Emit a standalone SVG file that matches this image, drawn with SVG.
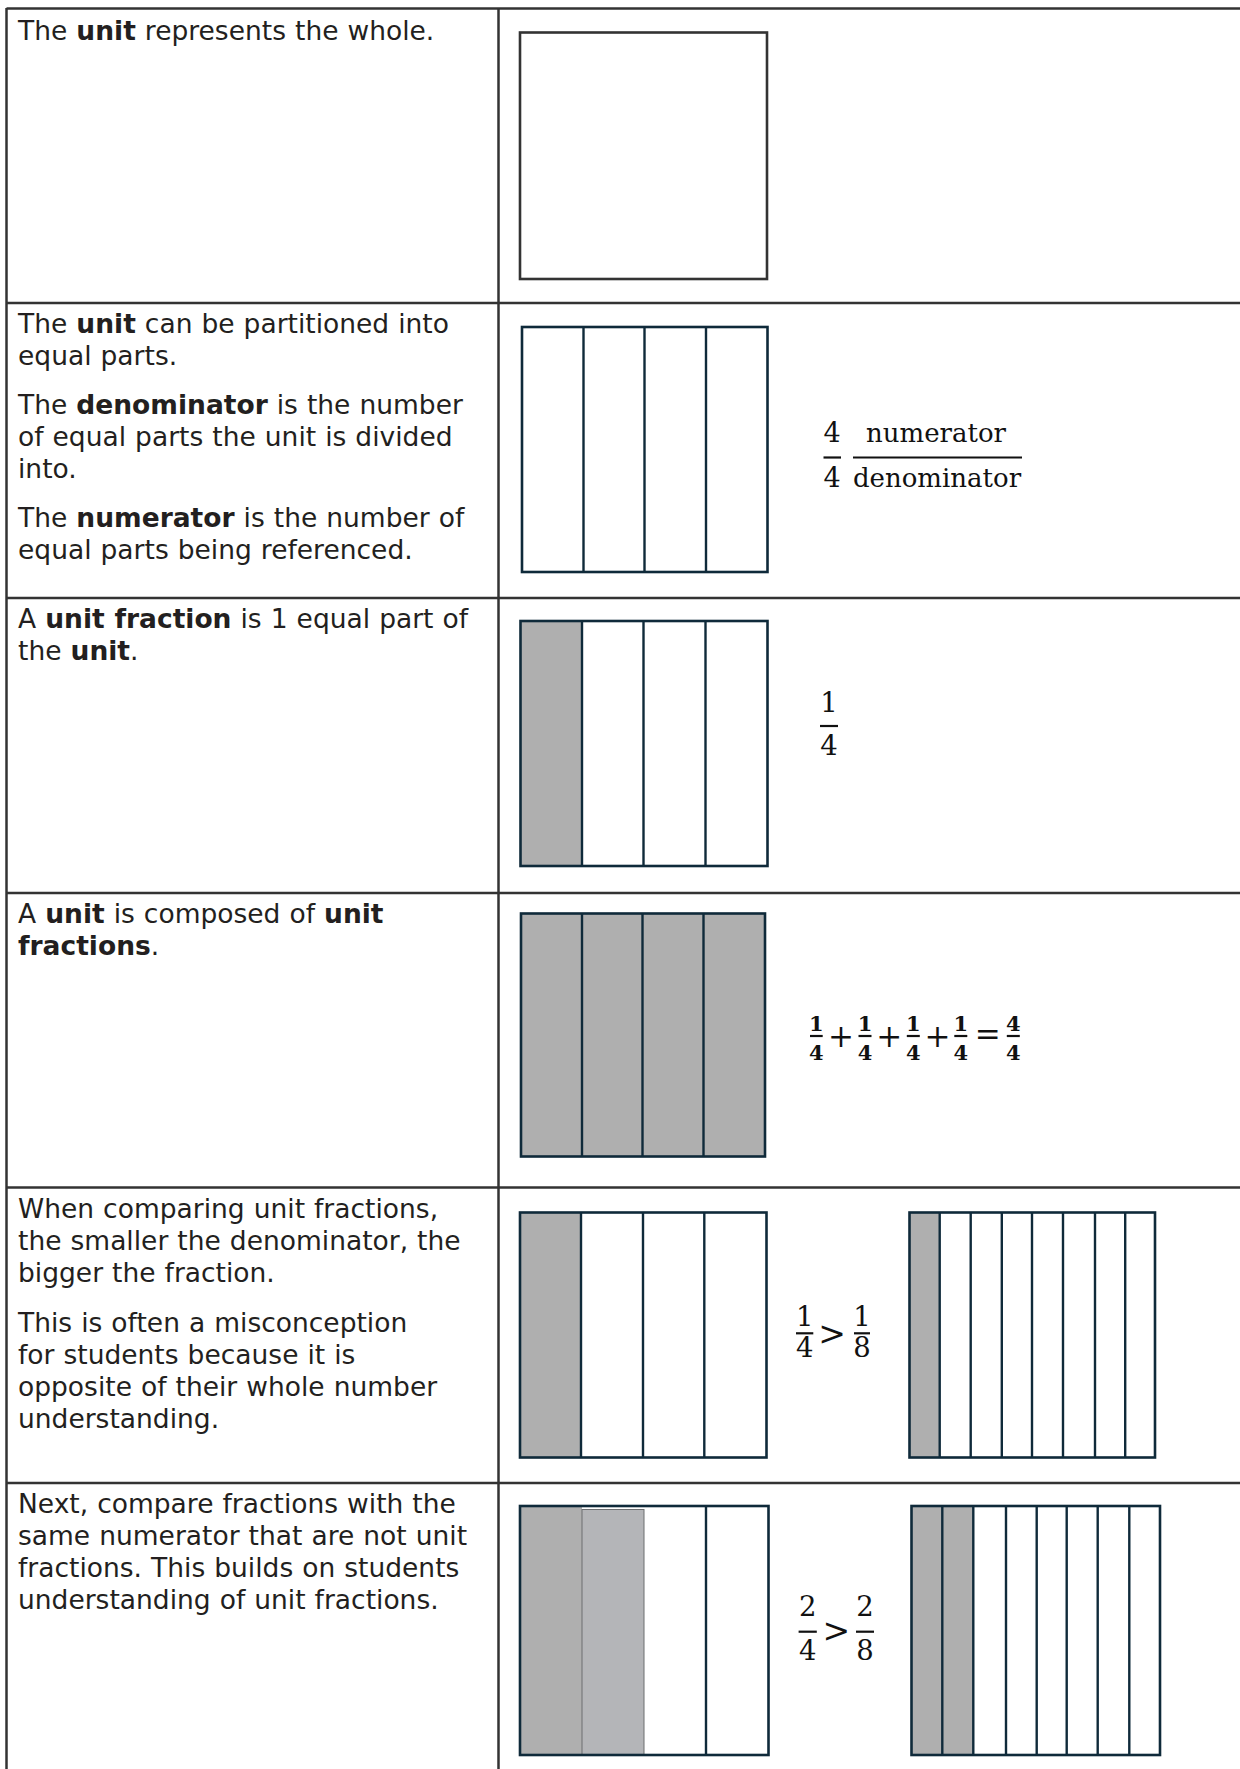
<svg xmlns="http://www.w3.org/2000/svg" width="1240" height="1769" viewBox="0 0 1240 1769">
<style>
.t{font-family:"DejaVu Sans",Verdana,sans-serif;font-size:26.5px;word-spacing:0.6px;fill:#231f20}
.b{font-weight:bold}
.grid{stroke:#333;stroke-width:2.5;fill:none}
.box{fill:none;stroke:#0f2a3a;stroke-width:2.6}
.div{stroke:#0f2a3a;stroke-width:2.4}
.sh{fill:#afafaf}
.m{font-family:"DejaVu Serif","Liberation Serif",serif;fill:#111;text-anchor:middle}
.bar{stroke:#111;stroke-width:2.2}
</style>
<rect width="1240" height="1769" fill="#fff"/>
<g id="table" class="grid">
<line x1="6.5" y1="8.5" x2="1240" y2="8.5"/>
<line x1="6.5" y1="8" x2="6.5" y2="1769"/>
<line x1="498.5" y1="8" x2="498.5" y2="1769"/>
<line x1="6" y1="303" x2="1240" y2="303"/>
<line x1="6" y1="598" x2="1240" y2="598"/>
<line x1="6" y1="893" x2="1240" y2="893"/>
<line x1="6" y1="1187.5" x2="1240" y2="1187.5"/>
<line x1="6" y1="1483" x2="1240" y2="1483"/>
</g>
<g id="row1-text">
<text class="t" x="18" y="40">The <tspan class="b">unit</tspan> represents the whole.</text>
</g>
<g id="row1-figure">
<rect x="520" y="32.5" width="247" height="246.5" fill="none" stroke="#333" stroke-width="2.6"/>
</g>
<g id="row2-text">
<text class="t" x="18" y="333">The <tspan class="b">unit</tspan> can be partitioned into</text>
<text class="t" x="18" y="365">equal parts.</text>
<text class="t" x="18" y="414">The <tspan class="b">denominator</tspan> is the number</text>
<text class="t" x="18" y="446">of equal parts the unit is divided</text>
<text class="t" x="18" y="478">into.</text>
<text class="t" x="18" y="527">The <tspan class="b">numerator</tspan> is the number of</text>
<text class="t" x="18" y="559">equal parts being referenced.</text>
</g>
<g id="row2-figure">
<rect class="box" x="522" y="327" width="245.5" height="245"/>
<line class="div" x1="583.5" y1="327" x2="583.5" y2="572"/>
<line class="div" x1="644.5" y1="327" x2="644.5" y2="572"/>
<line class="div" x1="706" y1="327" x2="706" y2="572"/>
<text class="m" x="832" y="442" font-size="27">4</text>
<line class="bar" x1="823.5" y1="457.5" x2="841" y2="457.5"/>
<text class="m" x="832" y="486.5" font-size="27">4</text>
<text class="m" x="936" y="442" font-size="26">numerator</text>
<line class="bar" x1="853" y1="457.5" x2="1022" y2="457.5"/>
<text class="m" x="937" y="486.5" font-size="26">denominator</text>
</g>
<g id="row3-text">
<text class="t" x="18" y="628">A <tspan class="b">unit fraction</tspan> is 1 equal part of</text>
<text class="t" x="18" y="660">the <tspan class="b">unit</tspan>.</text>
</g>
<g id="row3-figure">
<rect class="sh" x="520.5" y="621" width="61.5" height="245"/>
<rect class="box" x="520.5" y="621" width="247" height="245"/>
<line class="div" x1="582" y1="621" x2="582" y2="866"/>
<line class="div" x1="643.5" y1="621" x2="643.5" y2="866"/>
<line class="div" x1="705.5" y1="621" x2="705.5" y2="866"/>
<text class="m" x="829" y="711.7" font-size="27.5">1</text>
<line class="bar" x1="820" y1="726" x2="838" y2="726"/>
<text class="m" x="829" y="755" font-size="27.5">4</text>
</g>
<g id="row4-text">
<text class="t" x="18" y="923">A <tspan class="b">unit</tspan> is composed of <tspan class="b">unit</tspan></text>
<text class="t" x="18" y="955"><tspan class="b">fractions</tspan>.</text>
</g>
<g id="row4-figure">
<rect class="sh" x="521" y="913.5" width="244" height="243"/>
<rect class="box" x="521" y="913.5" width="244" height="243"/>
<line class="div" x1="582" y1="913.5" x2="582" y2="1156.5"/>
<line class="div" x1="642.5" y1="913.5" x2="642.5" y2="1156.5"/>
<line class="div" x1="703.5" y1="913.5" x2="703.5" y2="1156.5"/>
<g font-size="21" font-weight="bold">
<text class="m" x="816.4" y="1031">1</text><text class="m" x="816.4" y="1060">4</text>
<text class="m" x="865" y="1031">1</text><text class="m" x="865" y="1060">4</text>
<text class="m" x="913.3" y="1031">1</text><text class="m" x="913.3" y="1060">4</text>
<text class="m" x="960.8" y="1031">1</text><text class="m" x="960.8" y="1060">4</text>
<text class="m" x="1013.3" y="1031">4</text><text class="m" x="1013.3" y="1060">4</text>
</g>
<line class="bar" x1="810" y1="1036" x2="822.7" y2="1036"/>
<line class="bar" x1="858.5" y1="1036" x2="871.5" y2="1036"/>
<line class="bar" x1="906.8" y1="1036" x2="919.8" y2="1036"/>
<line class="bar" x1="954.3" y1="1036" x2="967.3" y2="1036"/>
<line class="bar" x1="1006.8" y1="1036" x2="1019.8" y2="1036"/>
<g font-size="31">
<text class="m" x="841" y="1046.5">+</text>
<text class="m" x="889.3" y="1046.5">+</text>
<text class="m" x="937.5" y="1046.5">+</text>
<text class="m" x="987.8" y="1045">=</text>
</g>
</g>
<g id="row5-text">
<text class="t" x="18" y="1218">When comparing unit fractions,</text>
<text class="t" x="18" y="1250">the smaller the denominator, the</text>
<text class="t" x="18" y="1282">bigger the fraction.</text>
<text class="t" x="18" y="1332">This is often a misconception</text>
<text class="t" x="18" y="1364">for students because it is</text>
<text class="t" x="18" y="1396">opposite of their whole number</text>
<text class="t" x="18" y="1428">understanding.</text>
</g>
<g id="row5-figure">
<rect class="sh" x="520" y="1212.5" width="61" height="245"/>
<rect class="box" x="520" y="1212.5" width="246.5" height="245"/>
<line class="div" x1="581" y1="1212.5" x2="581" y2="1457.5"/>
<line class="div" x1="643" y1="1212.5" x2="643" y2="1457.5"/>
<line class="div" x1="704.3" y1="1212.5" x2="704.3" y2="1457.5"/>
<rect class="sh" x="909.5" y="1212.5" width="30.2" height="245"/>
<rect class="box" x="909.5" y="1212.5" width="245.5" height="245"/>
<line class="div" x1="939.7" y1="1212.5" x2="939.7" y2="1457.5"/>
<line class="div" x1="970.7" y1="1212.5" x2="970.7" y2="1457.5"/>
<line class="div" x1="1001.8" y1="1212.5" x2="1001.8" y2="1457.5"/>
<line class="div" x1="1032" y1="1212.5" x2="1032" y2="1457.5"/>
<line class="div" x1="1063" y1="1212.5" x2="1063" y2="1457.5"/>
<line class="div" x1="1095" y1="1212.5" x2="1095" y2="1457.5"/>
<line class="div" x1="1125.2" y1="1212.5" x2="1125.2" y2="1457.5"/>
<g font-size="27.5">
<text class="m" x="804.7" y="1325.5">1</text>
<text class="m" x="804.7" y="1357">4</text>
<text class="m" x="862" y="1325.5">1</text>
<text class="m" x="862" y="1357">8</text>
</g>
<text class="m" x="832.2" y="1344.5" font-size="33">&gt;</text>
<line class="bar" x1="796" y1="1333.3" x2="813.3" y2="1333.3"/>
<line class="bar" x1="854" y1="1333.3" x2="870" y2="1333.3"/>
</g>
<g id="row6-text">
<text class="t" x="18" y="1513">Next, compare fractions with the</text>
<text class="t" x="18" y="1545">same numerator that are not unit</text>
<text class="t" x="18" y="1577">fractions. This builds on students</text>
<text class="t" x="18" y="1609">understanding of unit fractions.</text>
</g>
<g id="row6-figure">
<rect class="sh" x="520" y="1506" width="62" height="249"/>
<rect x="582" y="1509.5" width="62" height="245.5" fill="#b4b5b8" stroke="#6d6e71" stroke-width="1"/>
<rect class="box" x="520" y="1506" width="248.5" height="249"/>
<line class="div" x1="706" y1="1506" x2="706" y2="1755"/>
<rect class="sh" x="911.5" y="1506" width="61.8" height="249"/>
<rect class="box" x="911.5" y="1506" width="248.5" height="249"/>
<line class="div" x1="942.3" y1="1506" x2="942.3" y2="1755"/>
<line class="div" x1="973.3" y1="1506" x2="973.3" y2="1755"/>
<line class="div" x1="1006" y1="1506" x2="1006" y2="1755"/>
<line class="div" x1="1036.7" y1="1506" x2="1036.7" y2="1755"/>
<line class="div" x1="1066.7" y1="1506" x2="1066.7" y2="1755"/>
<line class="div" x1="1097.7" y1="1506" x2="1097.7" y2="1755"/>
<line class="div" x1="1129.3" y1="1506" x2="1129.3" y2="1755"/>
<g font-size="27.5">
<text class="m" x="807.7" y="1616">2</text>
<text class="m" x="807.7" y="1660">4</text>
<text class="m" x="865" y="1616">2</text>
<text class="m" x="865" y="1660">8</text>
</g>
<text class="m" x="836.4" y="1641.5" font-size="33">&gt;</text>
<line class="bar" x1="798.6" y1="1631.7" x2="816.8" y2="1631.7"/>
<line class="bar" x1="856" y1="1631.7" x2="874" y2="1631.7"/>
</g>
</svg>
